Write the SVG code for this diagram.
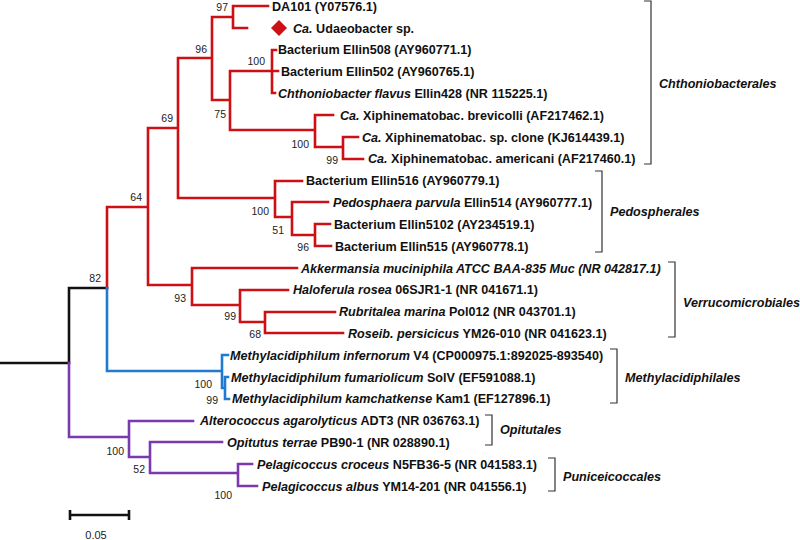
<svg xmlns="http://www.w3.org/2000/svg" width="800" height="540" viewBox="0 0 800 540">
<style>
.leaf{font-family:"Liberation Sans",Arial,sans-serif;font-size:12.6px;font-weight:bold;fill:#111}
.i{font-style:italic}
.bs{font-family:"Liberation Sans",Arial,sans-serif;font-size:10.5px;fill:#222;text-anchor:end}
.clade{font-family:"Liberation Sans",Arial,sans-serif;font-size:12.6px;font-weight:bold;font-style:italic;fill:#111}
.br{fill:none;stroke-width:2.6;stroke-linecap:square}
.red{stroke:#cc1016}
.blue{stroke:#1f7ad0}
.pur{stroke:#7a3aae}
.blk{stroke:#111}
.brk{fill:none;stroke:#333;stroke-width:1.2}
</style>
<rect width="800" height="540" fill="#fff"/>
<g id="connectors">
<path class="br blk" d="M0,363H69M69,288V363M69,288H107"/>
<path class="br red" d="M107,207V288M107,207H148M148,128V285M148,128H178M178,58V198M178,58H212M212,17V100M212,17H233M233,6V28M233,6H268M233,28H247M212,100H230M230,71V130M230,71H272M272,50V93M272,50H276M272,71H278M272,93H275M230,130H315M315,115V147M315,115H333M315,147H343M343,137V159M343,137H358M343,159H363M178,198H275M275,181V217M275,181H302M275,217H292M292,202V235M292,202H328M292,235H315M315,224V246M315,224H330M315,246H331M148,285H192M192,268V305M192,268H297M192,305H240M240,290V322M240,290H288M240,322H265M265,312V333M265,312H335M265,333H343"/>
<path class="br blue" d="M107,288V371H222M222,355V388M222,355H228M222,388H225M225,377V399M225,377H228M225,399H229"/>
<path class="br pur" d="M69,363V437H129M129,421V457M129,421H193M129,457H150M150,442V473M150,442H222M150,473H238M238,464V486M238,464H252M238,486H257"/>
</g>
<g id="leaves">
<g id="n1"><text class="leaf" x="272" y="11">DA101 (Y07576.1)</text></g>
<g id="n2"><polygon points="279,20 287,28 279,36 271,28" fill="#cc1016"/><text class="leaf" x="293" y="32.5"><tspan class="i">Ca.</tspan> Udaeobacter sp.</text></g>
<g id="n3"><text class="leaf" x="278" y="54">Bacterium Ellin508 (AY960771.1)</text></g>
<g id="n4"><text class="leaf" x="281" y="76">Bacterium Ellin502 (AY960765.1)</text></g>
<g id="n5"><text class="leaf" x="278" y="98"><tspan class="i">Chthoniobacter flavus</tspan> Ellin428 (NR 115225.1)</text></g>
<g id="n6"><text class="leaf" x="340" y="119.5"><tspan class="i">Ca.</tspan> Xiphinematobac. brevicolli (AF217462.1)</text></g>
<g id="n7"><text class="leaf" x="362" y="141.5"><tspan class="i">Ca.</tspan> Xiphinematobac. sp. clone (KJ614439.1)</text></g>
<g id="n8"><text class="leaf" x="368" y="163"><tspan class="i">Ca.</tspan> Xiphinematobac. americani (AF217460.1)</text></g>
<g id="n9"><text class="leaf" x="306" y="185">Bacterium Ellin516 (AY960779.1)</text></g>
<g id="n10"><text class="leaf" x="333" y="207"><tspan class="i">Pedosphaera parvula</tspan> Ellin514 (AY960777.1)</text></g>
<g id="n11"><text class="leaf" x="334" y="228.5">Bacterium Ellin5102 (AY234519.1)</text></g>
<g id="n12"><text class="leaf" x="335" y="250.5">Bacterium Ellin515 (AY960778.1)</text></g>
<g id="n13"><text class="leaf i" x="301" y="272.5">Akkermansia muciniphila ATCC BAA-835 Muc (NR 042817.1)</text></g>
<g id="n14"><text class="leaf" x="293" y="294"><tspan class="i">Haloferula rosea</tspan> 06SJR1-1 (NR 041671.1)</text></g>
<g id="n15"><text class="leaf" x="339" y="316"><tspan class="i">Rubritalea marina</tspan> Pol012 (NR 043701.1)</text></g>
<g id="n16"><text class="leaf" x="348" y="338"><tspan class="i">Roseib. persicicus</tspan> YM26-010 (NR 041623.1)</text></g>
<g id="n17"><text class="leaf" x="230" y="359.5"><tspan class="i">Methylacidiphilum infernorum</tspan> V4 (CP000975.1:892025-893540)</text></g>
<g id="n18"><text class="leaf" x="231" y="381.5"><tspan class="i">Methylacidiphilum fumariolicum</tspan> SolV (EF591088.1)</text></g>
<g id="n19"><text class="leaf" x="232" y="403"><tspan class="i">Methylacidiphilum kamchatkense</tspan> Kam1 (EF127896.1)</text></g>
<g id="n20"><text class="leaf" x="200" y="425"><tspan class="i">Alterococcus agarolyticus</tspan> ADT3 (NR 036763.1)</text></g>
<g id="n21"><text class="leaf" x="227" y="447"><tspan class="i">Opitutus terrae</tspan> PB90-1 (NR 028890.1)</text></g>
<g id="n22"><text class="leaf" x="257" y="468.5"><tspan class="i">Pelagicoccus croceus</tspan> N5FB36-5 (NR 041583.1)</text></g>
<g id="n23"><text class="leaf" x="262" y="490.5"><tspan class="i">Pelagicoccus albus</tspan> YM14-201 (NR 041556.1)</text></g>
</g>
<g id="bootstrap">
<text class="bs" x="228" y="11">97</text>
<text class="bs" x="207" y="53">96</text>
<text class="bs" x="265" y="65">100</text>
<text class="bs" x="226" y="118">75</text>
<text class="bs" x="173" y="122">69</text>
<text class="bs" x="309" y="148">100</text>
<text class="bs" x="338" y="164">99</text>
<text class="bs" x="142" y="201">64</text>
<text class="bs" x="269" y="215">100</text>
<text class="bs" x="284" y="234">51</text>
<text class="bs" x="309" y="251">96</text>
<text class="bs" x="101" y="282">82</text>
<text class="bs" x="186" y="302">93</text>
<text class="bs" x="236" y="320">99</text>
<text class="bs" x="261" y="338">68</text>
<text class="bs" x="212" y="388">100</text>
<text class="bs" x="218" y="404">99</text>
<text class="bs" x="124" y="455">100</text>
<text class="bs" x="145" y="473">52</text>
<text class="bs" x="232" y="499">100</text>
</g>
<g id="clades">
<path class="brk" d="M644,1H651V164H644"/>
<text class="clade" x="659" y="88">Chthoniobacterales</text>
<path class="brk" d="M595,171H602V252H595"/>
<text class="clade" x="610" y="216">Pedospherales</text>
<path class="brk" d="M668,262H675V337H668"/>
<text class="clade" x="683" y="307">Verrucomicrobiales</text>
<path class="brk" d="M610,349H617V403H610"/>
<text class="clade" x="625" y="382">Methylacidiphilales</text>
<path class="brk" d="M485,415H492V445H485"/>
<text class="clade" x="500" y="434">Opitutales</text>
<path class="brk" d="M548,458H555V491H548"/>
<text class="clade" x="563" y="481">Puniceicoccales</text>
</g>
<g id="scale">
<path fill="none" stroke="#111" stroke-width="2.6" d="M70,515H129M70,510V520M129,510V520"/>
<text x="96" y="539" font-family="Liberation Sans, Arial, sans-serif" font-size="11" text-anchor="middle" fill="#222">0.05</text>
</g>
</svg>
